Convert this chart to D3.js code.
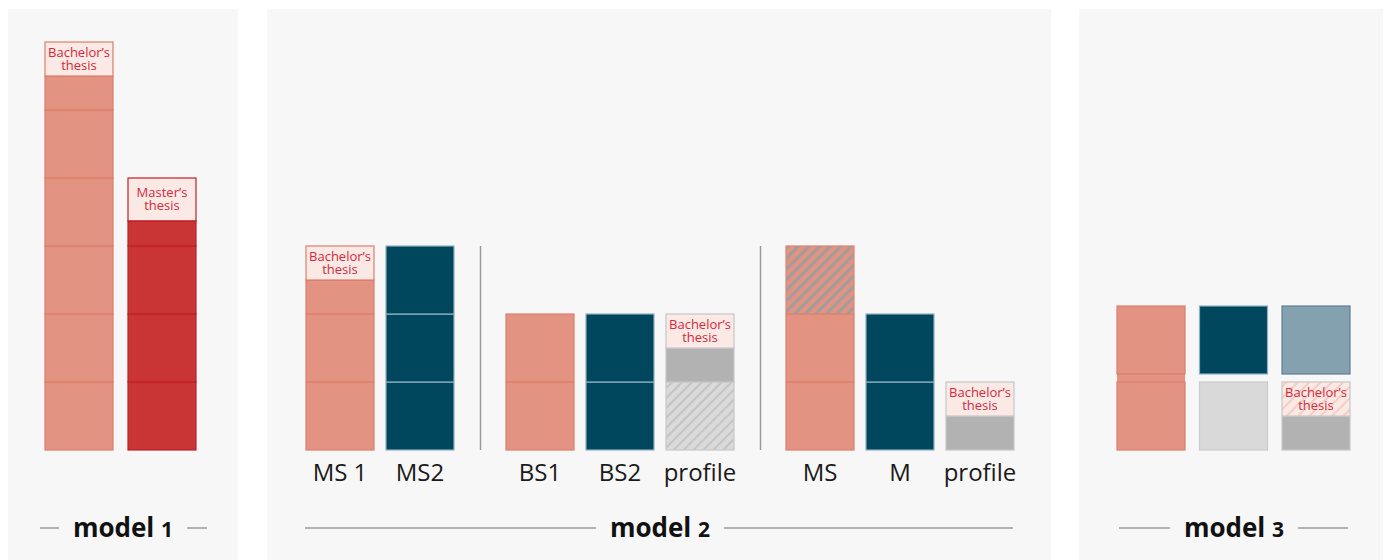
<!DOCTYPE html>
<html><head><meta charset="utf-8">
<script src="https://cdn.jsdelivr.net/npm/d3@7"></script>
<style>html,body{margin:0;padding:0;background:#fff}svg{display:block}</style>
</head><body>
<svg id="chart" width="1391" height="560"></svg>
<script>
// ---------- data ----------
const modelTitles = ["model", "model", "model"];
const modelNumbers = ["1", "2", "3"];
const thesisBachelor = ["Bachelor’s", "thesis"];
const thesisMaster = ["Master’s", "thesis"];

// model 1: two bars, segments from bottom (units = semesters)
const model1Bars = [
  [["salmon",1],["salmon",1],["salmon",1],["salmon",1],["salmon",1],["salmon",0.5],["thesis",0.5,"B"]],
  [["darkred",1],["darkred",1],["darkred",1],["darkred",0.37],["thesis",0.63,"M"]]
];

// model 2: three groups of bars
const model2Groups = [
  ["MS 1", "MS2"],
  ["BS1", "BS2", "profile"],
  ["MS", "M", "profile"]
];
const model2Bars = [
  [["salmon",1],["salmon",1],["salmon",0.5],["thesis",0.5,"B"]],
  [["teal",1],["teal",1],["teal",1]],
  [["salmon",1],["salmon",1]],
  [["teal",1],["teal",1]],
  [["hatchgray",1],["gray",0.5],["thesis",0.5,"B"]],
  [["salmon",1],["salmon",1],["hatchsalmon",1]],
  [["teal",1],["teal",1]],
  [["gray",0.5],["thesis",0.5,"B"]]
];

// model 3: 3 columns x 2 rows of cells
const model3Bottom = [
  [["salmon",1]],
  [["lightgray",1]],
  [["gray",0.5],["thesishatch",0.5,"B"]]
];
const model3Top = [
  [["salmon",1]],
  [["teal",1]],
  [["bluegray",1]]
];

// ---------- styles ----------
const fills = {
  salmon:"#e29381", darkred:"#c93434", teal:"#00475e", bluegray:"#84a1b0",
  gray:"#b2b2b2", lightgray:"#d9d9d9", thesis:"#fbe9e5",
  hatchgray:"url(#hatchgray)", hatchsalmon:"url(#hatchsalmon)", thesishatch:"url(#thesishatch)"
};
const strokes = {
  salmon:"#dc7e6c", darkred:"#c01f29", teal:"#8fb0c1", bluegray:"#5f7e97",
  gray:"#c6c6c6", lightgray:"#cbcbcb", hatchgray:"#c9c9c9", hatchsalmon:"#df8473"
};
const labelColor = "#d42a3c";

const svg = d3.select("#chart");
const defs = svg.append("defs");
function hatch(id, bg, fg, w, size){
  const p = defs.append("pattern").attr("id", id).attr("patternUnits","userSpaceOnUse")
    .attr("width", size).attr("height", size).attr("patternTransform","rotate(45)");
  p.append("rect").attr("width", size).attr("height", size).attr("fill", bg);
  p.append("line").attr("x1", size/2).attr("x2", size/2).attr("y1", 0).attr("y2", size)
    .attr("stroke", fg).attr("stroke-width", w);
}
hatch("hatchgray", "#dadada", "#bdbdbd", 1.6, 7);
hatch("hatchsalmon", "#e29381", "#9d9d9d", 3, 7.5);
hatch("thesishatch", "#fbe9e5", "#f5cdc2", 2, 8);

// panels
const panels = [[8,238],[267,1051],[1079,1383]];
svg.selectAll("rect.panel").data(panels).join("rect").attr("class","panel")
  .attr("x", d=>d[0]).attr("y", 9).attr("width", d=>d[1]-d[0]).attr("height", 560)
  .attr("fill", "#f7f7f7");

const y = d3.scaleLinear().domain([0, 6]).range([450, 42]);
const unitH = y(0) - y(1);
const barW = 68;

function drawStack(g, x0, segs, base){
  let acc = base;
  let prevType = null;
  segs.forEach(s => {
    const [t, v, lab] = s;
    const y0 = y(acc + v), y1 = y(acc);
    const st = (t === "thesis" || t === "thesishatch") ? (prevType ? strokes[prevType] : "#ccc") : strokes[t];
    g.append("rect").attr("x", x0).attr("y", y0).attr("width", barW).attr("height", y1 - y0)
      .attr("fill", fills[t]).attr("stroke", st).attr("stroke-width", 1.2);
    if (lab) {
      const lines = lab === "M" ? thesisMaster : thesisBachelor;
      const cy = (y0 + y1) / 2;
      const tx = g.append("text").attr("x", x0 + barW/2).attr("y", cy - 2)
        .attr("text-anchor","middle")
        .attr("font-family","Open Sans, Noto Sans, sans-serif").attr("font-size", 13)
        .attr("fill", labelColor);
      tx.append("tspan").attr("x", x0 + barW/2).text(lines[0]);
      tx.append("tspan").attr("x", x0 + barW/2).attr("dy", 12.5).text(lines[1]);
    }
    if (t !== "thesis" && t !== "thesishatch") prevType = t;
    acc += v;
  });
  return acc;
}

// ---------- model 1 ----------
const x1 = d3.scaleLinear().domain([0, 1]).range([45, 128]);
const g1 = svg.append("g");
model1Bars.forEach((segs, i) => drawStack(g1, x1(i), segs, 0));

// ---------- model 2 ----------
const x2 = d3.scaleLinear().domain([0, 8]).range([306, 946]);
const g2 = svg.append("g");
let slot = 0, k = 0;
const sepSlots = [];
model2Groups.forEach((grp, gi) => {
  if (gi > 0) { sepSlots.push(slot - 0.25); slot += 0.5; }
  grp.forEach(name => {
    const xx = x2(slot);
    drawStack(g2, xx, model2Bars[k], 0);
    g2.append("text").attr("x", xx + barW/2).attr("y", 481)
      .attr("text-anchor","middle").attr("font-family","Open Sans, sans-serif")
      .attr("font-size", 24).attr("fill", "#1a1a1a").text(name);
    slot += 1; k += 1;
  });
});
sepSlots.forEach(s => {
  const xx = x2(s) + barW/2 + 0.5;
  g2.append("line").attr("x1", xx).attr("x2", xx).attr("y1", y(3)).attr("y2", y(0))
    .attr("stroke", "#9a9a9a").attr("stroke-width", 1.5);
});

// ---------- model 3 ----------
const x3 = d3.scaleLinear().domain([0, 2]).range([1117, 1282]);
const g3 = svg.append("g");
const gapU = 8 / unitH;
model3Bottom.forEach((segs, i) => {
  if (model3Top[i][0][0] === model3Bottom[i][0][0]) {
    g3.append("rect").attr("x", x3(i)).attr("y", y(1 + gapU)).attr("width", barW)
      .attr("height", y(1) - y(1 + gapU)).attr("fill", fills[segs[0][0]]);
  }
  const top = drawStack(g3, x3(i), segs, 0);
  drawStack(g3, x3(i), model3Top[i], top + gapU);
});

// ---------- titles ----------
const titleCenters = [123, 660, 1234];
const lineExt = [[40,207],[305,1013],[1119,1348]];
titleCenters.forEach((cx, i) => {
  const t = svg.append("text").attr("x", cx).attr("y", 537).attr("text-anchor","middle")
    .attr("font-family","Open Sans, sans-serif").attr("font-weight", 700).attr("fill","#111");
  t.append("tspan").attr("font-size", 26).text(modelTitles[i] + " ");
  t.append("tspan").attr("font-size", 21).text(modelNumbers[i]);
  const w = t.node().getComputedTextLength();
  const gap = 14;
  svg.append("line").attr("x1", lineExt[i][0]).attr("x2", cx - w/2 - gap)
    .attr("y1", 528).attr("y2", 528).attr("stroke", "#9a9a9a").attr("stroke-width", 1.5);
  svg.append("line").attr("x1", cx + w/2 + gap).attr("x2", lineExt[i][1])
    .attr("y1", 528).attr("y2", 528).attr("stroke", "#9a9a9a").attr("stroke-width", 1.5);
});
</script>
</body></html>
